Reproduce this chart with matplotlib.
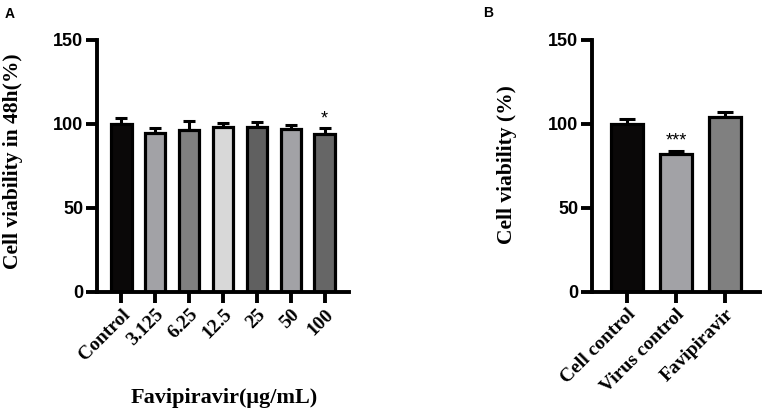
import numpy as np
import matplotlib
matplotlib.use("Agg")
import matplotlib.pyplot as plt

# panel A
conc = ["Control", "3.125", "6.25", "12.5", "25", "50", "100"]
via_a = [100, 94.8, 96.4, 98.2, 98.0, 97.2, 93.8]
err_a = [3.4, 2.6, 5.6, 2.4, 3.0, 2.2, 4.0]
col_a = ["#0a0808", "#a2a2a6", "#808080", "#d8d8d8", "#606060", "#a2a2a6", "#666666"]

# panel B
groups = ["Cell control", "Virus control", "Favipiravir"]
via_b = [100, 82.1, 104.0]
err_b = [3.0, 1.8, 3.4]
col_b = ["#0a0808", "#a2a2a6", "#808080"]

W, H = 765, 412
fig = plt.figure(figsize=(W / 100, H / 100), dpi=100)

serif = "Liberation Serif"
sans = "Liberation Sans"


def panel(rect, labels, vals, errs, cols, ylabel, width, cap):
    ax = fig.add_axes(rect)
    x = np.arange(len(vals))
    ax.bar(x, vals, width=width, color=cols, edgecolor="black", linewidth=2.3, zorder=2)
    ax.errorbar(x, vals, yerr=[np.zeros(len(errs)), errs], fmt="none",
                ecolor="black", elinewidth=2.2, capsize=cap, capthick=2.2, zorder=1)
    ax.set_ylim(0, 150)
    ax.set_yticks([0, 50, 100, 150])
    ax.set_xlim(-0.72, len(vals) - 0.28)
    ax.set_xticks(x)
    ax.set_xticklabels(labels, rotation=45, ha="right", rotation_mode="anchor",
                       fontfamily=serif, fontweight="bold", fontsize=14)
    for t in ax.get_yticklabels():
        t.set_fontfamily(sans)
        t.set_fontweight("bold")
        t.set_fontsize(13)
    for s in ["top", "right"]:
        ax.spines[s].set_visible(False)
    for s in ["left", "bottom"]:
        ax.spines[s].set_linewidth(2.8)
    ax.tick_params(width=2.8, length=8, pad=2)
    ax.set_ylabel(ylabel, fontfamily=serif, fontweight="bold", fontsize=15.5)
    return ax


axa = panel([97 / W, 1 - 292 / H, 252 / W, 252 / H], conc, via_a, err_a, col_a,
            "Cell viability in 48h(%)", 0.6, 4.5)
axa.yaxis.set_label_coords(-0.294, 0.52)
axa.set_xlabel("Favipiravir(μg/mL)", fontfamily=serif, fontweight="bold", fontsize=16)
axa.xaxis.set_label_coords(0.506, -0.38)
axa.text(6, 100.5, "*", ha="center", va="baseline", fontsize=13, fontfamily=sans)

axb = panel([592 / W, 1 - 292 / H, 168 / W, 252 / H], groups, via_b, err_b, col_b,
            "Cell viability (%)", 0.65, 6)
axb.yaxis.set_label_coords(-0.446, 0.504)
axb.text(1, 87.2, "***", ha="center", va="baseline", fontsize=13, fontfamily=sans)

fig.text(5 / W, 1 - 14 / H, "A", fontfamily=sans, fontweight="bold", fontsize=10, va="center")
fig.text(483 / W, 1 - 13 / H, "B", fontfamily=sans, fontweight="bold", fontsize=10, va="center")

fig.savefig("out.png", dpi=100)
